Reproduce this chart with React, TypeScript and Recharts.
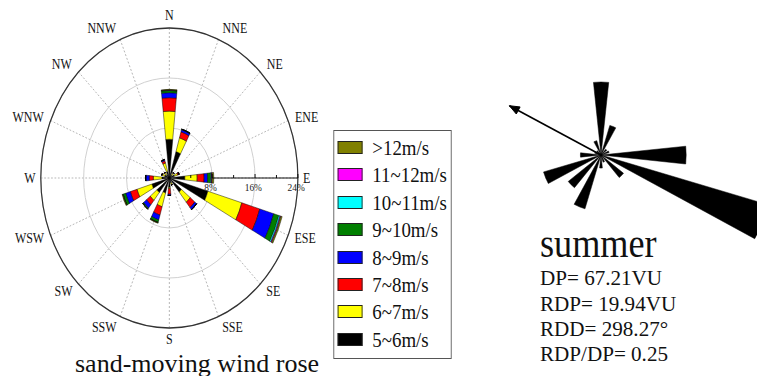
import React from 'react';
import {
  RadialBarChart,
  RadialBar,
  PolarAngleAxis,
  PolarRadiusAxis,
  PolarGrid,
  LineChart,
  Line,
  XAxis,
  YAxis,
} from 'recharts';

// ---------------- data ----------------
const directions = ['N', 'NNE', 'NE', 'ENE', 'E', 'ESE', 'SE', 'SSE', 'S', 'SSW', 'SW', 'WSW', 'W', 'WNW', 'NW', 'NNW'];

const speedClasses = ['5~6m/s', '6~7m/s', '7~8m/s', '8~9m/s', '9~10m/s', '10~11m/s', '11~12m/s', '>12m/s'];
const speedColors = ['#000000', '#ffff00', '#ff0000', '#0000ff', '#007f00', '#00ffff', '#ff00ff', '#808000'];

// frequency (%) per direction for each speed class
const s5to6 = [6.2, 4.4, 0.6, 1.0, 2.9, 7.5, 2.9, 0.8, 1.5, 2.5, 3.0, 3.4, 1.4, 0.9, 0.7, 1.1];
const s6to7 = [4.5, 2.3, 0.4, 0.6, 2.3, 6.6, 2.1, 0.3, 0.2, 2.3, 1.6, 2.9, 1.6, 0.5, 0.4, 1.4];
const s7to8 = [2.15, 1.0, 0.1, 0.2, 1.3, 3.5, 1.1, 0.1, 0.9, 1.4, 0.9, 1.3, 0.75, 0.1, 0.1, 0.4];
const s8to9 = [0.8, 0.35, 0.05, 0.1, 0.65, 2.7, 0.4, 0, 0.2, 0.8, 0.7, 0.9, 0.6, 0, 0, 0.2];
const s9to10 = [0.35, 0.1, 0, 0, 0.6, 1.0, 0.05, 0, 0, 0.4, 0.2, 0.5, 0.1, 0, 0, 0];
const s10to11 = [0.05, 0, 0, 0, 0.15, 0.25, 0, 0, 0, 0.05, 0, 0.05, 0, 0, 0, 0];
const s11to12 = [0.03, 0, 0, 0, 0.1, 0.15, 0, 0, 0, 0, 0, 0, 0, 0, 0, 0];
const sOver12 = [0.1, 0, 0, 0, 0.3, 0.25, 0, 0, 0, 0.1, 0.05, 0.15, 0, 0, 0, 0];
const speedSeries = [s5to6, s6to7, s7to8, s8to9, s9to10, s10to11, s11to12, sOver12];

const radiusTicks = [8, 16, 24];
const minorRadiusTicks = [4, 12, 20];

// sand drift potential per direction (VU)
const sandDP = [7.8, 3.3, 0.8, 0.9, 9.1, 18.7, 3.1, 0.8, 1.4, 6.0, 4.5, 6.4, 2.2, 0.7, 0.6, 1.6];

const seasonName = 'summer';
const DP = 67.21;
const RDP = 19.94;
const RDD = 298.27;
const RATIO = 0.25;
const caption = 'sand-moving wind rose';

// ---------------- derived tables ----------------
const roseData = directions.map((dir, i) => {
  const row: Record<string, number | string> = { dir };
  speedSeries.forEach((s, k) => {
    row['k' + k] = s[i];
  });
  return row;
});

const sandData = directions.map((dir, i) => ({ dir, dp: sandDP[i] }));

const rdpRad = (RDD * Math.PI) / 180;
const arrowData = [
  { x: 0, y: 0 },
  { x: RDP * Math.sin(rdpRad), y: RDP * Math.cos(rdpRad) },
];

// ---------------- styling ----------------
const SERIF = "'Liberation Serif', 'Times New Roman', Times, serif";
const K = 0.857; // horizontal squeeze of the left figure
const ROSE_W = 545;
const ROSE_CX = 197.6;
const ROSE_CY = 178;
const ROSE_R = 150;
const STEP = 360 / directions.length;
const HALF = STEP / 2;
const START = 90 - HALF;
const END = START - 360;
const spokeAngles = directions.map((_, i) => 90 - i * STEP);

function DirTick(props: any) {
  const { payload } = props;
  const cx = typeof props.cx === 'number' ? props.cx : ROSE_CX;
  const cy = typeof props.cy === 'number' ? props.cy : ROSE_CY;
  const r = typeof props.radius === 'number' ? props.radius : ROSE_R;
  const a = ((payload.coordinate + HALF) * Math.PI) / 180;
  const ux = Math.cos(a);
  const uy = -Math.sin(a);
  const dist = r + 6 + (uy > 0 ? 5.5 : 7) * Math.abs(uy);
  const tx = cx + ux * dist;
  const ty = cy + uy * dist;
  const anchor = ux > 0.3 ? 'start' : ux < -0.3 ? 'end' : 'middle';
  return (
    <text x={tx} y={ty} textAnchor={anchor} dominantBaseline="central" fontSize={14} fontFamily={SERIF} fill="#111">
      {payload.value}
    </text>
  );
}

function RadiusTick(props: any) {
  const { x, y, payload } = props;
  return (
    <g>
      <line x1={x} y1={y} x2={x} y2={y - 4} stroke="#000" strokeWidth={1} />
      <text x={x - 2} y={y + 13} textAnchor="middle" fontSize={11} fontFamily={SERIF} fill="#222">
        {payload.value + '%'}
      </text>
    </g>
  );
}

function MinorTick(props: any) {
  const { x, y } = props;
  return <line x1={x} y1={y} x2={x} y2={y - 3} stroke="#000" strokeWidth={1} />;
}

function ArrowHead(props: any) {
  const { cx, cy, index } = props;
  if (index !== 1 || cx == null || cy == null) return <g key={'d' + index} />;
  const ux = Math.sin(rdpRad);
  const uy = -Math.cos(rdpRad);
  const L = 10;
  const W = 4;
  const bx = cx - ux * L;
  const by = cy - uy * L;
  const pts = `${cx},${cy} ${bx - uy * W},${by + ux * W} ${bx + uy * W},${by - ux * W}`;
  return <polygon key={'d' + index} points={pts} fill="#000" stroke="#000" />;
}

function LegendBox() {
  const order = speedClasses.map((_, i) => speedClasses.length - 1 - i);
  return (
    <div
      style={{
        position: 'absolute',
        left: 389,
        top: 130,
        width: 138,
        height: 229,
        border: '1px solid #555',
        boxSizing: 'border-box',
        background: '#fff',
        fontFamily: SERIF,
      }}
    >
      {order.map((k, row) => (
        <div key={k} style={{ position: 'absolute', left: 0, top: 3 + row * 27.4, height: 27, width: 138 }}>
          <div
            style={{
              position: 'absolute',
              left: 3.5,
              top: 7,
              width: 29,
              height: 13,
              boxSizing: 'border-box',
              border: '1px solid #222',
              background: speedColors[k],
            }}
          />
          <div
            style={{
              position: 'absolute',
              left: 44.5,
              top: 0,
              height: 27,
              lineHeight: '27px',
              fontSize: 22,
              color: '#111',
              whiteSpace: 'nowrap',
            }}
          >
            {speedClasses[k]}
          </div>
        </div>
      ))}
    </div>
  );
}

export default function App() {
  const arrowBox = 260;
  const arrowHalf = 130 / 5.216;
  return (
    <div style={{ position: 'absolute', left: 0, top: 0, width: 757, height: 376, overflow: 'hidden', background: '#fff' }}>
      {/* wind rose (left) */}
      <div
        style={{
          position: 'absolute',
          left: 0,
          top: 0,
          width: ROSE_W,
          height: 376,
          transform: `scaleX(${K})`,
          transformOrigin: '0 0',
        }}
      >
        <RadialBarChart
          width={ROSE_W}
          height={376}
          data={roseData}
          layout="centric"
          cx={ROSE_CX}
          cy={ROSE_CY}
          innerRadius={0}
          outerRadius={ROSE_R}
          startAngle={START}
          endAngle={END}
          barCategoryGap="24%"
          margin={{ top: 0, right: 0, bottom: 0, left: 0 }}
        >
          <PolarGrid gridType="circle" polarRadius={[]} polarAngles={spokeAngles} stroke="#b0b0b0" strokeDasharray="2 2" />
          <PolarGrid gridType="circle" radialLines={false} stroke="#cccccc" />
          <PolarAngleAxis
            type="category"
            dataKey="dir"
            axisLineType="circle"
            axisLine={{ stroke: '#333', strokeWidth: 1.4 }}
            tickLine={false}
            tick={<DirTick />}
          />
          <PolarRadiusAxis
            type="number"
            domain={[0, 24]}
            ticks={radiusTicks}
            angle={0}
            axisLine={{ stroke: '#000', strokeWidth: 1 }}
            tick={<RadiusTick />}
          />
          <PolarRadiusAxis
            radiusAxisId="minor"
            type="number"
            domain={[0, 24]}
            allowDataOverflow
            ticks={minorRadiusTicks}
            angle={0}
            axisLine={false}
            tick={<MinorTick />}
          />
          {speedClasses.map((name, k) => (
            <RadialBar
              key={name}
              name={name}
              dataKey={'k' + k}
              stackId="speed"
              fill={speedColors[k]}
              stroke="#000"
              strokeWidth={0.5}
              isAnimationActive={false}
            />
          ))}
        </RadialBarChart>
        <LegendBox />
      </div>

      {/* sand rose (right) */}
      <div style={{ position: 'absolute', left: 601 - 200, top: 155 - 200 }}>
        <RadialBarChart
          width={400}
          height={400}
          data={sandData}
          layout="centric"
          cx={200}
          cy={200}
          innerRadius={0}
          outerRadius={187.2}
          startAngle={START}
          endAngle={END}
          barCategoryGap="23%"
          margin={{ top: 0, right: 0, bottom: 0, left: 0 }}
        >
          <PolarAngleAxis type="category" dataKey="dir" tick={false} tickLine={false} axisLine={false} />
          <PolarRadiusAxis type="number" domain={[0, 20]} tick={false} axisLine={false} />
          <RadialBar dataKey="dp" fill="#000" stroke="#000" strokeWidth={0.5} isAnimationActive={false} />
        </RadialBarChart>
      </div>

      {/* resultant drift arrow */}
      <div style={{ position: 'absolute', left: 601 - arrowBox / 2, top: 155 - arrowBox / 2 }}>
        <LineChart width={arrowBox} height={arrowBox} data={arrowData} margin={{ top: 0, right: 0, bottom: 0, left: 0 }}>
          <XAxis type="number" dataKey="x" domain={[-arrowHalf, arrowHalf]} hide allowDataOverflow />
          <YAxis type="number" dataKey="y" domain={[-arrowHalf, arrowHalf]} hide allowDataOverflow />
          <Line
            type="linear"
            dataKey="y"
            stroke="#000"
            strokeWidth={1.6}
            dot={<ArrowHead />}
            activeDot={false}
            isAnimationActive={false}
          />
        </LineChart>
      </div>

      {/* texts */}
      <svg width={757} height={376} style={{ position: 'absolute', left: 0, top: 0, pointerEvents: 'none' }}>
        <text x={75} y={371.5} fontSize={26} fontFamily={SERIF} fill="#111">
          {caption}
        </text>
        <text x={540} y={256.7} fontSize={40} fontFamily={SERIF} fill="#111" transform="translate(540,0) scale(0.905,1) translate(-540,0)">
          {seasonName}
        </text>
        <g fontSize={22} fontFamily={SERIF} fill="#111" transform="translate(540,0) scale(0.96,1) translate(-540,0)">
          <text x={540} y={285}>{`DP= ${DP.toFixed(2)}VU`}</text>
          <text x={540} y={310.7}>{`RDP= ${RDP.toFixed(2)}VU`}</text>
          <text x={540} y={336}>{`RDD= ${RDD.toFixed(2)}°`}</text>
          <text x={540} y={360.7}>{`RDP/DP= ${RATIO.toFixed(2)}`}</text>
        </g>
      </svg>
    </div>
  );
}
